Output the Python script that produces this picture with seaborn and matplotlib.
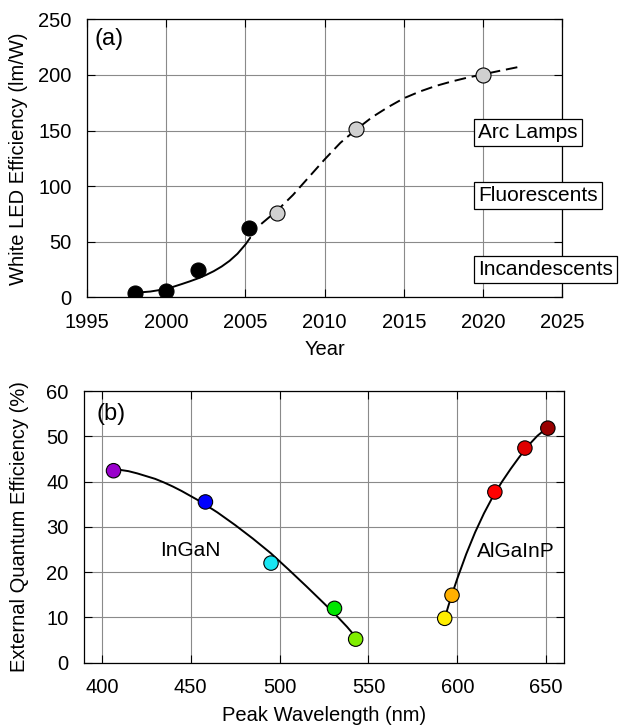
import matplotlib
matplotlib.use("Agg")
import matplotlib.pyplot as plt
import seaborn as sns
import pandas as pd

# ---- Panel (a): white LED luminous efficiency ----
measured_year = [1998, 2000, 2002, 2005.2]
measured_eff = [3.5, 6.0, 25.0, 62.0]
projected_year = [2007, 2012, 2020]
projected_eff = [76.0, 151.0, 200.0]

# historical trend (solid) and forecast (dashed)
trend_year = [1998, 1999, 2000, 2000.5, 2001, 2001.5, 2002, 2002.5, 2003,
              2003.5, 2004, 2004.5, 2005, 2005.3]
trend_eff = [4.0, 5.2, 7.5, 9.7, 12.0, 14.4, 17.0, 20.0, 23.5,
             27.7, 32.8, 39.2, 47.5, 53.5]
forecast_year = [2006.0, 2007, 2008, 2009, 2010, 2011, 2012, 2013, 2014,
                 2015, 2016, 2017, 2018, 2019, 2020, 2021, 2022.2]
forecast_eff = [66, 78, 92, 108, 124, 139, 151, 162, 171,
                179, 185, 190, 194, 197.5, 200.5, 203.5, 207]

lamp_labels = ["Arc Lamps", "Fluorescents", "Incandescents"]
lamp_levels = [148.0, 91.5, 25.0]

year_ticks = [1995, 2000, 2005, 2010, 2015, 2020, 2025]
eff_ticks = [0, 50, 100, 150, 200, 250]

# ---- Panel (b): external quantum efficiency vs peak wavelength ----
ingan_wl = [406.6, 458.3, 495.2, 530.9, 542.8]
ingan_eqe = [42.4, 35.5, 22.0, 12.0, 5.2]
ingan_colors = ["#9900CC", "#0000FF", "#19E6F2", "#00E600", "#80EE00"]

algainp_wl = [592.9, 597.0, 621.1, 638.0, 650.9]
algainp_eqe = [9.8, 14.9, 37.7, 47.4, 51.8]
algainp_colors = ["#FFEE00", "#FFB000", "#FF0000", "#E00000", "#990000"]

ingan_fit_wl = [406.6, 410, 415, 420, 425, 430, 435, 440, 445, 450, 455, 465,
                475, 485, 495, 505, 515, 525, 532, 538, 542.8]
ingan_fit_eqe = [42.7, 42.6, 42.3, 41.8, 41.2, 40.6, 39.8, 38.9, 37.9, 36.8,
                 35.7, 33.2, 30.4, 27.4, 24.2, 20.6, 16.9, 13.1, 10.4, 7.9, 5.7]
algainp_fit_wl = [592.9, 595, 597, 600, 605, 610, 615, 620, 625, 630,
                  635, 640, 645, 650.9]
algainp_fit_eqe = [9.8, 12.6, 15.1, 18.6, 24.0, 28.8, 33.0, 36.7, 39.9, 42.8,
                   45.5, 48.0, 50.1, 52.0]

wl_ticks = [400, 450, 500, 550, 600, 650]
eqe_ticks = [0, 10, 20, 30, 40, 50, 60]

sns.set_style("ticks")
plt.rcParams["font.family"] = ["Liberation Sans", "DejaVu Sans"]
plt.rcParams["text.color"] = "black"
plt.rcParams["axes.labelcolor"] = "black"
plt.rcParams["xtick.color"] = "black"
plt.rcParams["ytick.color"] = "black"

fig = plt.figure(figsize=(6.2, 7.28), dpi=100)
ax_a = fig.add_axes([0.1403, 0.5916, 0.7666, 0.3819])
ax_b = fig.add_axes([0.1355, 0.0897, 0.7742, 0.3732])

GRID = "#8a8a8a"
TICK_FS = 14.5
LABEL_FS = 14.5


def style_axes(ax):
    ax.set_axisbelow(True)
    ax.grid(True, color=GRID, linewidth=0.8)
    for sp in ax.spines.values():
        sp.set_visible(True)
        sp.set_color("black")
        sp.set_linewidth(0.9)
    ax.tick_params(direction="in", length=5.5, width=0.8, top=True, right=True,
                   labelsize=TICK_FS, pad=11, color="black", labelcolor="black")


# ---- draw panel (a) ----
sns.lineplot(x=trend_year, y=trend_eff, ax=ax_a, color="black", lw=1.4,
             sort=False, estimator=None, zorder=2)
sns.lineplot(x=forecast_year, y=forecast_eff, ax=ax_a, color="black", lw=1.4,
             sort=False, estimator=None, linestyle=(0, (6, 3)), zorder=2)
sns.scatterplot(x=measured_year, y=measured_eff, ax=ax_a, color="black",
                edgecolor="black", linewidth=0.8, s=117, zorder=3)
sns.scatterplot(x=projected_year, y=projected_eff, ax=ax_a, color="#D0D0D0",
                edgecolor="black", linewidth=0.8, s=117, zorder=3)

for name, lvl in zip(lamp_labels, lamp_levels):
    ax_a.text(2019.7, lvl, name, fontsize=15, ha="left", va="center",
              zorder=5, clip_on=False,
              bbox=dict(boxstyle="square,pad=0.2", facecolor="white",
                        edgecolor="black", linewidth=0.9))

ax_a.text(1996.4, 232, "(a)", fontsize=17, ha="center", va="center")
ax_a.set_xlim(1995, 2025)
ax_a.set_ylim(0, 250)
ax_a.set_xticks(year_ticks)
ax_a.set_yticks(eff_ticks)
style_axes(ax_a)
ax_a.set_xlabel("Year", fontsize=LABEL_FS)
ax_a.set_ylabel("White LED Efficiency (lm/W)", fontsize=LABEL_FS)
ax_a.xaxis.set_label_coords(0.5, -0.155)
ax_a.yaxis.set_label_coords(-0.124, 0.5)

# ---- draw panel (b) ----
sns.lineplot(x=ingan_fit_wl, y=ingan_fit_eqe, ax=ax_b, color="black", lw=1.4,
             sort=False, estimator=None, zorder=2)
sns.lineplot(x=algainp_fit_wl, y=algainp_fit_eqe, ax=ax_b, color="black", lw=1.4,
             sort=False, estimator=None, zorder=2)

b_df = pd.DataFrame({
    "wl": ingan_wl + algainp_wl,
    "eqe": ingan_eqe + algainp_eqe,
    "key": [str(w) for w in ingan_wl + algainp_wl],
})
sns.scatterplot(data=b_df, x="wl", y="eqe", hue="key", hue_order=list(b_df["key"]),
                palette=ingan_colors + algainp_colors, ax=ax_b, s=108,
                edgecolor="black", linewidth=0.8, legend=False, zorder=3)

ax_b.text(449.8, 24.8, "InGaN", fontsize=15, ha="center", va="center")
ax_b.text(632.8, 24.5, "AlGaInP", fontsize=15, ha="center", va="center")
ax_b.text(405.0, 54.9, "(b)", fontsize=17, ha="center", va="center")

ax_b.set_xlim(390, 660)
ax_b.set_ylim(0, 60)
ax_b.set_xticks(wl_ticks)
ax_b.set_yticks(eqe_ticks)
style_axes(ax_b)
ax_b.set_xlabel("Peak Wavelength (nm)", fontsize=LABEL_FS)
ax_b.set_ylabel("External Quantum Efficiency (%)", fontsize=LABEL_FS)
ax_b.xaxis.set_label_coords(0.5, -0.158)
ax_b.yaxis.set_label_coords(-0.115, 0.5)

fig.savefig("out.png", dpi=100)
